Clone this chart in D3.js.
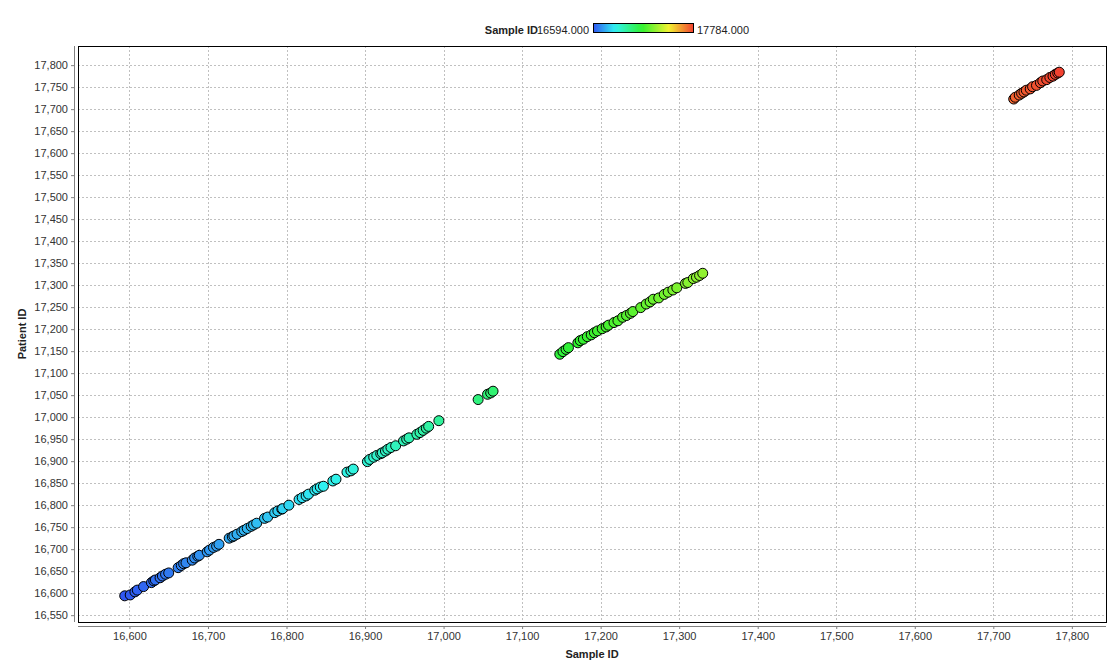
<!DOCTYPE html>
<html>
<head>
<meta charset="utf-8">
<script src="https://cdn.jsdelivr.net/npm/d3@7"></script>
<style>
  body { margin: 0; background: #ffffff; }
  svg { display: block; font-family: "Liberation Sans", Arial, sans-serif; }
</style>
</head>
<body>
<svg id="chart" width="1120" height="670"></svg>
<script>
// ---- Data (Sample ID on x, Patient ID on y) ----
const sampleIds = [
  16594,16601,16607,16610,16618,16628,16631,16633,16639,16642,16646,16650,
  16662,16666,16669,16672,16680,16683,16687,16689,16699,16702,16707,16711,16714,
  16727,16731,16733,16737,16743,16746,16750,16755,16758,16762,16772,16776,
  16785,16789,16794,16795,16803,16816,16820,16825,16828,16836,16839,16843,16847,
  16859,16863,16877,16882,16885,16903,16906,16911,16915,16920,16922,16926,16929,
  16933,16939,16949,16953,16956,16966,16970,16974,16978,16981,16994,
  17044,17056,17060,17063,
  17148,17152,17156,17159,17171,17174,17178,17183,17188,17192,17196,17202,17207,
  17210,17217,17222,17228,17233,17238,17241,17251,17258,17263,17267,17274,17281,
  17286,17292,17297,17308,17311,17318,17322,17326,17330,
  17726,17728,17733,17736,17739,17742,17747,17750,17755,17760,17763,17768,17772,
  17776,17779,17782,17784
];
const patientIds = [
  16594,16596,16603,16607,16615,16624,16628,16630,16635,16639,16643,16646,
  16658,16663,16667,16669,16675,16680,16684,16686,16694,16698,16704,16707,16711,
  16725,16728,16730,16734,16740,16743,16747,16752,16755,16759,16770,16773,
  16783,16787,16791,16792,16800,16813,16817,16821,16825,16834,16837,16841,16843,
  16855,16859,16875,16878,16882,16899,16904,16909,16913,16917,16919,16923,16927,
  16931,16935,16946,16950,16953,16961,16965,16970,16975,16979,16992,
  17040,17052,17055,17059,
  17143,17149,17154,17158,17169,17174,17177,17183,17187,17192,17196,17201,17205,
  17209,17215,17219,17227,17231,17236,17240,17249,17257,17262,17268,17271,17279,
  17284,17289,17294,17304,17306,17315,17318,17322,17327,
  17723,17727,17732,17736,17739,17743,17746,17751,17754,17760,17764,17767,17772,
  17775,17779,17782,17784
];
const xTicks = [16600,16700,16800,16900,17000,17100,17200,17300,17400,17500,17600,17700,17800];
const yTicks = [16550,16600,16650,16700,16750,16800,16850,16900,16950,17000,17050,17100,
  17150,17200,17250,17300,17350,17400,17450,17500,17550,17600,17650,17700,17750,17800];
const xLabel = "Sample ID";
const yLabel = "Patient ID";
const legendTitle = "Sample ID";

const points = sampleIds.map((s, i) => ({ x: s, y: patientIds[i] }));

// ---- Layout ----
const plot = { left: 78, top: 46, right: 1106, bottom: 622 };
const svg = d3.select("#chart");

function padded(ext) {
  const m = (ext[1] - ext[0]) * 0.05;
  return [ext[0] - m, ext[1] + m];
}
const xExt = d3.extent(sampleIds);
const x = d3.scaleLinear().domain(padded(xExt)).range([plot.left, plot.right]);
const y = d3.scaleLinear().domain(padded(d3.extent(patientIds))).range([plot.bottom, plot.top]);

// Rainbow palette in HSV
function hsv(h, s, v) {
  const c = v * s, hp = h / 60, xx = c * (1 - Math.abs(hp % 2 - 1));
  let r = 0, g = 0, b = 0;
  if (hp < 1) { r = c; g = xx; }
  else if (hp < 2) { r = xx; g = c; }
  else if (hp < 3) { g = c; b = xx; }
  else if (hp < 4) { g = xx; b = c; }
  else if (hp < 5) { r = xx; b = c; }
  else { r = c; b = xx; }
  const m = v - c;
  return d3.rgb((r + m) * 255, (g + m) * 255, (b + m) * 255).formatHex();
}
const tScale = d3.scaleLinear().domain(xExt).range([0, 1]).clamp(true);
const color = v => hsv(228 - 223 * tScale(v), 0.8, 0.95);

// ---- Gridlines ----
const grid = svg.append("g");
grid.selectAll("line.v").data(xTicks).join("line")
  .attr("x1", d => Math.round(x(d)) + 0.5).attr("x2", d => Math.round(x(d)) + 0.5)
  .attr("y1", plot.top).attr("y2", plot.bottom)
  .attr("stroke", "#c0c0c0").attr("stroke-dasharray", "2,2");
grid.selectAll("line.h").data(yTicks).join("line")
  .attr("y1", d => Math.round(y(d)) + 0.5).attr("y2", d => Math.round(y(d)) + 0.5)
  .attr("x1", plot.left).attr("x2", plot.right)
  .attr("stroke", "#c0c0c0").attr("stroke-dasharray", "2,2");

// ---- Points ----
svg.append("g").selectAll("circle").data(points).join("circle")
  .attr("cx", d => x(d.x)).attr("cy", d => y(d.y)).attr("r", 5)
  .attr("fill", d => color(d.x)).attr("stroke", "#000").attr("stroke-width", 1);

// ---- Plot border ----
svg.append("rect")
  .attr("x", plot.left + 0.5).attr("y", plot.top + 0.5)
  .attr("width", plot.right - plot.left).attr("height", plot.bottom - plot.top)
  .attr("fill", "none").attr("stroke", "#000").attr("stroke-width", 1);

// ---- Axes ----
const fmt = d3.format(",");
const xAxis = d3.axisBottom(x).tickValues(xTicks).tickFormat(fmt).tickSize(3).tickPadding(3);
const yAxis = d3.axisLeft(y).tickValues(yTicks).tickFormat(fmt).tickSize(3).tickPadding(3);

const gx = svg.append("g").attr("transform", `translate(0,${plot.bottom + 4})`).call(xAxis);
const gy = svg.append("g").attr("transform", `translate(${plot.left - 4},0)`).call(yAxis);
[gx, gy].forEach(g => {
  g.select(".domain").attr("stroke", "#808080");
  g.selectAll(".tick line").attr("stroke", "#808080");
  g.selectAll("text").attr("font-size", 11).attr("fill", "#333")
    .attr("font-family", "'Liberation Sans', Arial, sans-serif");
});
gx.select(".domain").attr("d", `M${plot.left},0.5H${plot.right}`);
gy.select(".domain").attr("d", `M0.5,${plot.top}V${plot.bottom}`);

// Axis labels
svg.append("text").attr("x", (plot.left + plot.right) / 2).attr("y", 658)
  .attr("text-anchor", "middle").attr("font-size", 11).attr("font-weight", "bold")
  .attr("fill", "#222").text(xLabel);
svg.append("text").attr("transform", `translate(26,${(plot.top + plot.bottom) / 2}) rotate(-90)`)
  .attr("text-anchor", "middle").attr("font-size", 11).attr("font-weight", "bold")
  .attr("fill", "#222").text(yLabel);

// ---- Legend (colour scale) ----
const defs = svg.append("defs");
const grad = defs.append("linearGradient").attr("id", "rainbow");
d3.range(0, 1.0001, 0.05).forEach(t => {
  grad.append("stop").attr("offset", t).attr("stop-color", color(xExt[0] + t * (xExt[1] - xExt[0])));
});
svg.append("text").attr("x", 538).attr("y", 34).attr("text-anchor", "end")
  .attr("font-size", 11).attr("font-weight", "bold").attr("fill", "#222").text(legendTitle);
svg.append("text").attr("x", 537).attr("y", 34)
  .attr("font-size", 11).attr("fill", "#222").text(d3.format(".3f")(xExt[0]));
svg.append("rect").attr("x", 593.5).attr("y", 23.5).attr("width", 100).attr("height", 9)
  .attr("fill", "url(#rainbow)").attr("stroke", "#000");
svg.append("text").attr("x", 697).attr("y", 34)
  .attr("font-size", 11).attr("fill", "#222").text(d3.format(".3f")(xExt[1]));
</script>
</body>
</html>
